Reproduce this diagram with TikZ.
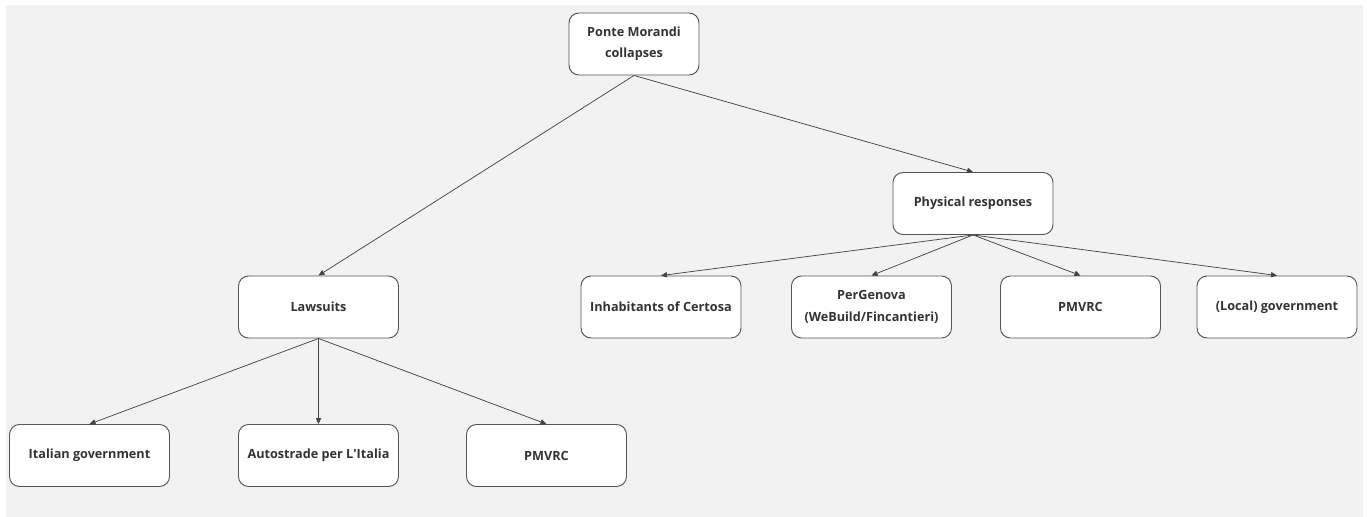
\documentclass[tikz,border=0pt]{standalone}
\usepackage{fontspec}
\setmainfont{Open Sans}
\usetikzlibrary{arrows.meta}
\definecolor{panel}{HTML}{F2F2F2}
\definecolor{boxline}{HTML}{555555}
\definecolor{txt}{HTML}{333333}
\definecolor{edge}{HTML}{444444}
\begin{document}
\begin{tikzpicture}[x=0.75pt,y=-0.75pt,
  box/.style={draw=boxline,fill=white,rounded corners=7.5pt,line width=0.7pt,
    minimum width=120pt,minimum height=46.5pt,inner sep=2pt,align=center,
    font=\fontsize{9.5}{16}\selectfont\bfseries,text=txt},
  conn/.style={draw=edge,line width=0.55pt,-{Triangle[length=4.5pt,width=4pt]}}]
\useasboundingbox (0,0) rectangle (1367,517);
\fill[white] (0,0) rectangle (1367,517);
\fill[panel] (6,5) rectangle (1363,517);
\node[box,minimum width=97.5pt] (pm) at (634,44) {Ponte Morandi\\collapses};
\node[box] (pr) at (973,203.5) {Physical responses};
\node[box] (ls) at (318.5,307) {Lawsuits};
\node[box] (ic) at (661,307) {Inhabitants of Certosa};
\node[box] (pg) at (871.5,307) {PerGenova\\(WeBuild/Fincantieri)};
\node[box] (p2) at (1080.5,307) {PMVRC};
\node[box] (lg) at (1277,307) {(Local) government};
\node[box] (ig) at (89.5,455.5) {Italian government};
\node[box] (as) at (318.5,455.5) {Autostrade per L\textquotesingle Italia};
\node[box] (p1) at (546.5,455.5) {PMVRC};
\draw[conn] (pm.south) -- (ls.north);
\draw[conn] (pm.south) -- (pr.north);
\draw[conn] (pr.south) -- (ic.north);
\draw[conn] (pr.south) -- (pg.north);
\draw[conn] (pr.south) -- (p2.north);
\draw[conn] (pr.south) -- (lg.north);
\draw[conn] (ls.south) -- (ig.north);
\draw[conn] (ls.south) -- (as.north);
\draw[conn] (ls.south) -- (p1.north);
\end{tikzpicture}
\end{document}
